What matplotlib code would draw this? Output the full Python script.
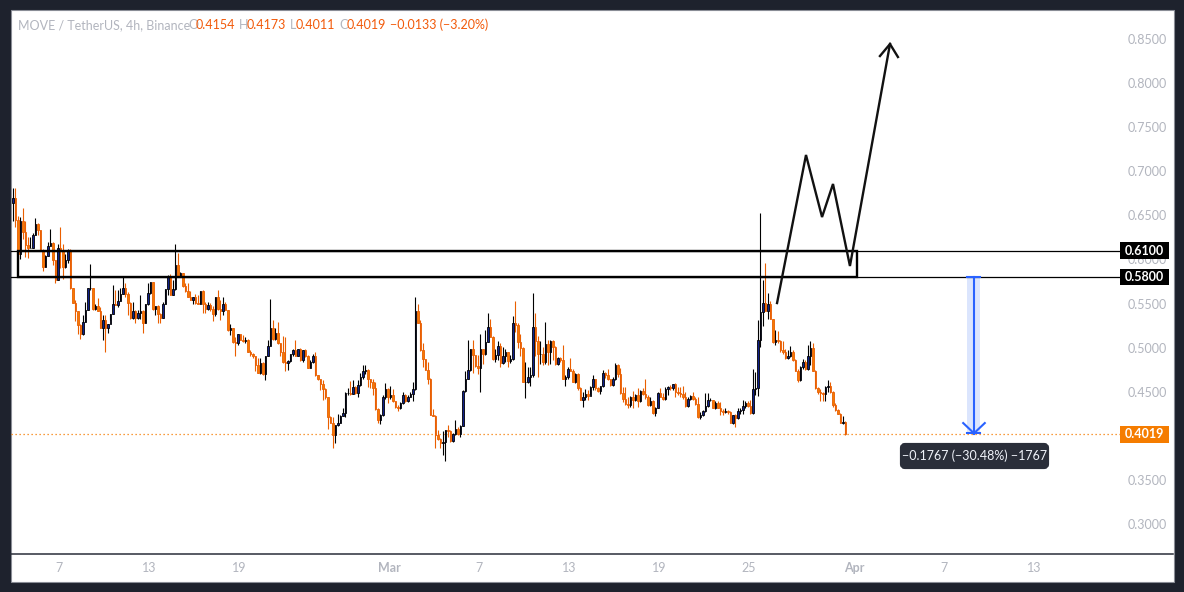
#! /usr/bin/python
# MOVE / TetherUS 4h candles with hand drawn zone and projection

import numpy as np
import matplotlib
matplotlib.use("Agg")
import matplotlib.pyplot as plt
from matplotlib.patches import Rectangle, FancyBboxPatch
from matplotlib.transforms import IdentityTransform

plt.rcParams['font.family'] = ['Lato', 'DejaVu Sans']

first_open = 0.6635
first_day = 3.93   # day counted from Feb 0, one bar = 4h

closes = [
    .670,.645,.606,.644,.631,.616,.613,.613,.628,.640,.633,.611,
    .592,.604,.615,.619,.599,.577,.613,.611,.591,.599,.611,.568,
    .551,.541,.526,.516,.529,.543,.568,.568,.544,.547,.541,.522,
    .531,.522,.527,.538,.549,.548,.553,.561,.568,.561,.551,.534,
    .541,.534,.539,.542,.528,.549,.562,.574,.544,.547,.538,.534,
    .550,.567,.580,.560,.567,.594,.580,.585,.570,.564,.558,.554,
    .558,.551,.550,.564,.550,.544,.548,.544,.538,.557,.544,.541,
    .550,.543,.520,.522,.506,.505,.515,.509,.507,.509,.495,.493,
    .491,.480,.471,.483,.470,.490,.502,.522,.510,.517,.505,.495,
    .484,.483,.485,.493,.497,.491,.499,
    .486,.497,.490,.477,.484,.490,.469,.464,.459,.453,.444,.421,
    .415,.401,.412,.414,.422,.426,.449,.449,.448,.455,.449,.458,
    .467,.473,.475,.464,.461,.454,.430,.418,.424,.444,.453,.444,
    .446,.439,.433,.431,.437,.446,.439,.444,.448,.453,.541,.528,
    .497,.487,.475,.465,.424,.422,.401,.396,.392,.393,.407,.405,
    .394,.402,.408,.402,.411,.451,.465,.475,.498,.492,.479,.477,
    .498,.493,.506,.523,.512,.487,.492,.502,.483,.490,.495,.485,
    .487,.528,.526,.506,.500,.461,.461,.467,.469,.523,.507,.493,
    .493,.484,.504,.495,.507,.501,.481,.488,.486,.465,.467,.476,
    .474,.461,.470,.454,.441,.444,.447,.445,.455,.464,.454,.451,
    .456,.471,.469,.464,.458,.464,.480,.470,.449,.442,.436,.435,
    .444,.441,.446,.439,.451,.448,.444,.435,.440,.426,.432,.449,
    .444,.442,.453,.455,.454,.459,.450,.449,.448,.444,.434,.442,
    .445,.442,.436,.421,.424,.428,.434,.441,.441,.432,.437,.432,
    .428,.427,.428,.427,.415,.424,.420,.428,.429,.434,.437,.434,
    .426,.453,.454,.509,.540,.551,.542,.549,.533,.506,.509,.507,
    .497,.495,.488,.490,.495,.486,.474,.463,.478,.484,.476,.490,
    .500,.474,.454,.450,.449,.448,.455,.456,.450,.435,.429,.425,
    .415,.4154,.4019,
]
highs = [
    .681,.681,.649,.648,.658,.644,.625,.626,.630,.647,.641,.633,
    .612,.605,.620,.635,.620,.599,.618,.637,.618,.606,.612,.612,
    .568,.554,.541,.527,.537,.552,.568,.595,.568,.549,.556,.546,
    .537,.537,.527,.538,.571,.565,.565,.568,.580,.573,.563,.552,
    .552,.543,.543,.560,.543,.549,.573,.575,.575,.547,.548,.539,
    .552,.567,.582,.583,.577,.617,.607,.586,.585,.573,.573,.564,
    .558,.561,.560,.564,.565,.552,.552,.551,.547,.557,.565,.554,
    .557,.552,.543,.527,.522,.512,.516,.515,.514,.512,.510,.497,
    .494,.491,.488,.488,.484,.490,.509,.555,.531,.522,.529,.505,
    .513,.512,.486,.493,.498,.509,.499,
    .500,.497,.499,.492,.486,.493,.495,.469,.464,.463,.454,.444,
    .422,.421,.412,.425,.424,.431,.450,.454,.462,.463,.456,.463,
    .471,.480,.480,.476,.465,.465,.461,.431,.425,.446,.460,.454,
    .456,.453,.440,.435,.438,.450,.447,.446,.450,.461,.557,.549,
    .531,.505,.487,.484,.466,.430,.424,.407,.397,.406,.407,.412,
    .407,.403,.418,.410,.412,.452,.474,.509,.499,.509,.492,.492,
    .516,.499,.520,.539,.532,.513,.499,.507,.505,.501,.499,.495,
    .492,.536,.553,.528,.516,.501,.484,.478,.478,.562,.539,.513,
    .507,.501,.529,.509,.509,.509,.502,.489,.489,.503,.469,.478,
    .488,.476,.471,.471,.455,.450,.453,.452,.456,.469,.465,.455,
    .457,.475,.472,.476,.465,.467,.483,.482,.477,.455,.455,.444,
    .445,.451,.448,.454,.452,.454,.464,.446,.444,.441,.433,.450,
    .454,.449,.455,.457,.458,.459,.460,.455,.455,.456,.450,.444,
    .446,.450,.444,.444,.427,.429,.449,.449,.443,.441,.440,.439,
    .438,.430,.431,.429,.428,.424,.425,.431,.431,.441,.440,.440,
    .441,.476,.472,.531,.653,.577,.596,.562,.553,.533,.520,.519,
    .509,.507,.498,.497,.502,.497,.487,.476,.479,.487,.486,.503,
    .507,.505,.475,.455,.453,.450,.457,.463,.461,.451,.437,.430,
    .426,.423,.4173,
]
lows = [
    .644,.637,.601,.601,.623,.603,.602,.613,.613,.628,.628,.610,
    .587,.591,.604,.615,.594,.573,.577,.590,.578,.590,.596,.566,
    .551,.530,.516,.510,.514,.529,.543,.565,.543,.543,.541,.522,
    .509,.495,.517,.531,.538,.548,.546,.553,.561,.558,.537,.533,
    .533,.528,.533,.533,.517,.528,.548,.561,.543,.537,.528,.528,
    .534,.549,.560,.560,.560,.565,.580,.580,.569,.563,.558,.554,
    .549,.549,.549,.549,.539,.539,.543,.541,.530,.536,.543,.531,
    .537,.543,.519,.514,.505,.490,.503,.509,.506,.505,.495,.490,
    .488,.474,.471,.470,.469,.463,.490,.502,.509,.509,.504,.490,
    .483,.474,.475,.484,.491,.490,.490,
    .485,.484,.489,.477,.477,.483,.468,.463,.452,.441,.442,.408,
    .414,.386,.392,.411,.414,.422,.421,.446,.446,.448,.448,.444,
    .456,.465,.470,.455,.454,.446,.429,.414,.413,.422,.442,.437,
    .442,.438,.431,.428,.430,.436,.438,.438,.444,.439,.452,.528,
    .496,.478,.475,.459,.424,.422,.386,.395,.386,.378,.371,.399,
    .393,.393,.401,.401,.399,.411,.450,.464,.474,.471,.478,.470,
    .450,.482,.492,.506,.512,.486,.484,.486,.478,.482,.484,.478,
    .483,.486,.518,.500,.490,.461,.443,.460,.456,.467,.490,.467,
    .482,.480,.482,.480,.482,.486,.480,.480,.484,.464,.456,.465,
    .473,.461,.460,.452,.441,.433,.441,.441,.448,.452,.452,.450,
    .447,.455,.466,.463,.457,.457,.463,.467,.448,.438,.435,.431,
    .433,.431,.439,.433,.438,.446,.442,.434,.434,.425,.422,.431,
    .444,.441,.441,.446,.452,.452,.444,.446,.444,.442,.433,.433,
    .441,.441,.435,.420,.419,.422,.427,.433,.440,.431,.430,.431,
    .424,.424,.426,.425,.414,.413,.410,.419,.425,.425,.431,.433,
    .425,.425,.446,.445,.501,.524,.541,.532,.532,.505,.503,.505,
    .495,.493,.487,.487,.489,.485,.473,.461,.462,.476,.475,.475,
    .480,.473,.453,.447,.439,.440,.439,.450,.449,.433,.428,.425,
    .414,.413,.4011,
]

ytick_values = [.30,.35,.40,.45,.50,.55,.60,.65,.70,.75,.80,.85]
xtick_days = [7,13,19,29,35,41,47,53,60,66,72]
xtick_labels = ["7","13","19","Mar","7","13","19","25","Apr","7","13"]

zone_top = 0.61
zone_bottom = 0.58
zone_days = [4.3, 60.2]
last_price = 0.4019

path_days = [54.87,56.8,57.87,58.6,59.73,62.4]
path_prices = [.5506,.7185,.6481,.6856,.5926,.8443]
head_days = [61.73,62.4,62.93]
head_prices = [.8307,.8443,.8296]

measure_day = 68.0

opens = np.array([first_open] + closes[:-1])
closes = np.array(closes)
highs = np.array(highs)
lows = np.array(lows)
days = first_day + np.arange(len(closes)) / 6.0
up = closes >= opens

W, H = 1184, 592
fig = plt.figure(figsize=(W/100, H/100), dpi=100, facecolor="#1e222d")

# white panel behind chart and time axis
fig.add_artist(Rectangle((10.5, H-581.5), 1163, 572, transform=IdentityTransform(),
                         facecolor="white", edgecolor="#8a8d96", lw=0.8, zorder=-5))

ax = fig.add_axes([11/W, (H-554)/H, 1162/W, 544/H], facecolor="white")
ax.patch.set_alpha(0)
ax.set_xlim(3.8, 81.267)
ax.set_ylim(0.2660, 0.8829)

for s in ["top", "left", "right"]:
    ax.spines[s].set_visible(False)
ax.spines["bottom"].set_color("#2a2e39")
ax.spines["bottom"].set_linewidth(1.1)

ax.yaxis.tick_right()
ax.set_yticks(ytick_values)
ax.set_yticklabels(["%.4f" % v for v in ytick_values])
ax.tick_params(axis="y", length=0, pad=-32.4, labelsize=9, labelcolor="#b2b5be")
for t in ax.get_yticklabels():
    t.set_horizontalalignment("left")
ax.set_xticks(xtick_days)
ax.set_xticklabels(xtick_labels)
ax.tick_params(axis="x", length=0, pad=5.5, labelsize=9, labelcolor="#b2b5be")
for t in ax.get_xticklabels():
    if t.get_text() in ("Mar", "Apr"):
        t.set_fontweight("bold")

# candles
ax.vlines(days[up], lows[up], highs[up], color="black", lw=0.8, zorder=3)
ax.vlines(days[~up], lows[~up], highs[~up], color="#ea5f00", lw=0.8, zorder=3)
ax.bar(days[up], closes[up]-opens[up], bottom=opens[up], width=0.11,
       facecolor="#10208a", edgecolor="black", lw=0.6, zorder=4)
ax.bar(days[~up], opens[~up]-closes[~up], bottom=closes[~up], width=0.11,
       facecolor="#f57c00", edgecolor="#e85d04", lw=0.6, zorder=4)

# last price line
label_x = 77.73
ax.plot([3.8, label_x], [last_price, last_price], color="#f57c00", lw=0.9,
        ls=(0, (1, 2.2)), zorder=2)

# zone
ax.plot([3.8, label_x], [zone_top, zone_top], color="black", lw=0.9, zorder=5)
ax.plot([3.8, label_x], [zone_bottom, zone_bottom], color="black", lw=0.9, zorder=5)
ax.add_patch(Rectangle((zone_days[0], zone_bottom), zone_days[1]-zone_days[0], zone_top-zone_bottom,
                       fill=False, edgecolor="black", lw=1.7, zorder=5))

# projected path
ax.plot(path_days, path_prices, color="#111111", lw=1.7, zorder=6, solid_joinstyle="miter")
ax.plot(head_days, head_prices, color="#111111", lw=1.7, zorder=6, solid_joinstyle="miter")

# measure arrow
band = 13/15.0
ax.add_patch(Rectangle((measure_day-band/2, last_price), band, zone_bottom-last_price,
                       facecolor="#dbe5fd", edgecolor="none", zorder=2))
blue = "#2962ff"
ax.plot([measure_day, measure_day], [last_price, zone_bottom], color=blue, lw=1.5, zorder=6)
ax.plot([measure_day-band/2, measure_day+band/2], [zone_bottom, zone_bottom], color=blue, lw=1.5, zorder=6)
ax.plot([measure_day-band/2, measure_day+band/2], [last_price+.001, last_price+.001], color=blue, lw=1.5, zorder=6)
ax.plot([measure_day-.72, measure_day, measure_day+.72], [.4145, last_price+.001, .4145], color=blue, lw=1.5, zorder=6)

# price labels on the scale
for price, col in [(zone_top, "black"), (zone_bottom, "black"), (last_price, "#f57c00")]:
    ax.add_patch(Rectangle((label_x, price-.0095), 3.27, .019, facecolor=col, edgecolor="none",
                           zorder=8, clip_on=False))
    ax.text(label_x+3.27/2, price-.0003, "%.4f" % price, color="white", fontsize=9, fontweight="bold",
            ha="center", va="center", zorder=9)

# tooltip
fig.add_artist(FancyBboxPatch((902, H-467), 145, 22, boxstyle="round,pad=0,rounding_size=3",
                              mutation_aspect=1, transform=IdentityTransform(),
                              facecolor="#2a2e39", edgecolor="#2a2e39", lw=3, zorder=10))
fig.text(974.5/W, 1-456/H, "\u22120.1767 (\u221230.48%) \u22121767", color="#f0f3fa", fontsize=9,
         ha="center", va="center", zorder=11)

# header legend
gray = "#b2b5be"
red = "#f25a0a"
header = [(18, "MOVE / TetherUS, 4h, Binance", gray),
          (188, "O", gray), (196, "0.4154", red),
          (239, "H", gray), (247, "0.4173", red),
          (290, "L", gray), (296, "0.4011", red),
          (339, "C", gray), (347, "0.4019", red),
          (390, "\u22120.0133 (\u22123.20%)", red)]
for px, txt, col in header:
    fig.text(px/W, 1-25/H, txt, color=col, fontsize=9, ha="left", va="center")

fig.savefig("out.png", dpi=100, facecolor=fig.get_facecolor())
